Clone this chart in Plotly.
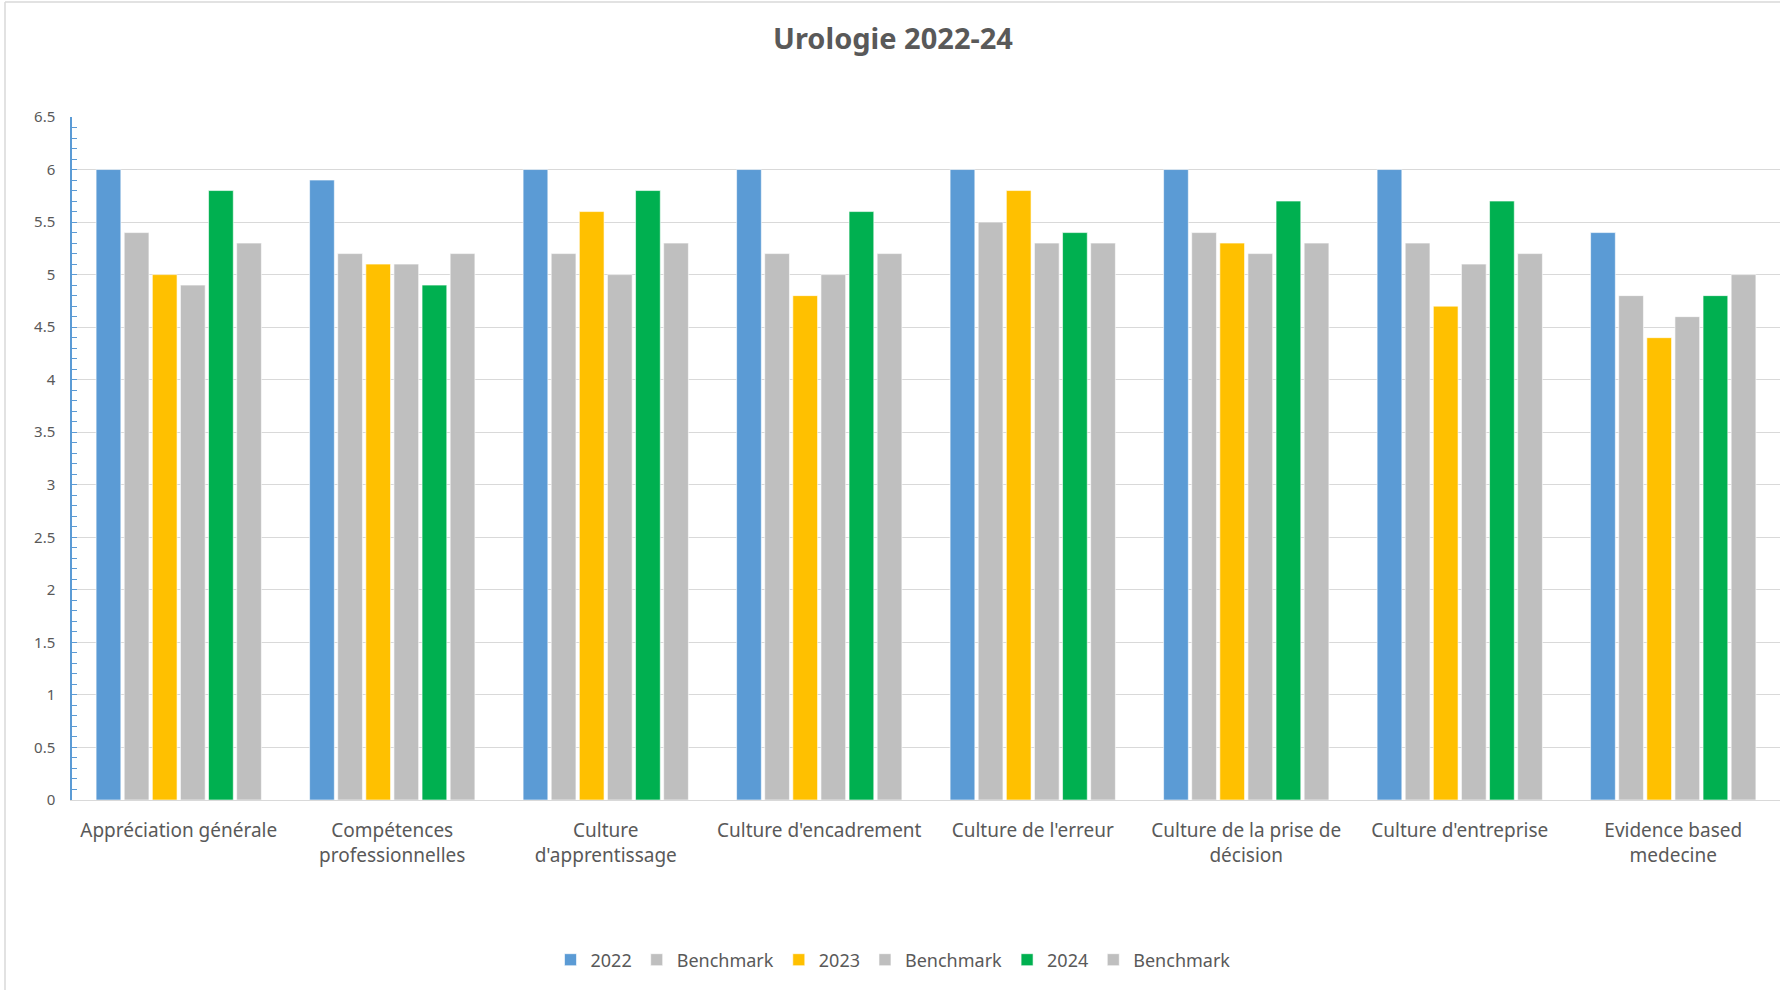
import plotly.graph_objects as go

categories = [
    "Appréciation générale",
    "Compétences<br>professionnelles",
    "Culture<br>d'apprentissage",
    "Culture d'encadrement",
    "Culture de l'erreur",
    "Culture de la prise de<br>décision",
    "Culture d'entreprise",
    "Evidence based<br>medecine",
]
v2022 = [6.0, 5.9, 6.0, 6.0, 6.0, 6.0, 6.0, 5.4]
bench1 = [5.4, 5.2, 5.2, 5.2, 5.5, 5.4, 5.3, 4.8]
v2023 = [5.0, 5.1, 5.6, 4.8, 5.8, 5.3, 4.7, 4.4]
bench2 = [4.9, 5.1, 5.0, 5.0, 5.3, 5.2, 5.1, 4.6]
v2024 = [5.8, 4.9, 5.8, 5.6, 5.4, 5.7, 5.7, 4.8]
bench3 = [5.3, 5.2, 5.3, 5.2, 5.3, 5.3, 5.2, 5.0]

series = [
    ("2022", v2022, "#5B9BD5"),
    ("Benchmark", bench1, "#BFBFBF"),
    ("2023", v2023, "#FFC000"),
    ("Benchmark", bench2, "#BFBFBF"),
    ("2024", v2024, "#00B050"),
    ("Benchmark", bench3, "#BFBFBF"),
]

W, H = 1780, 990
ML, MR, MT, MB = 72, 0, 117, 190
plot_h = H - MT - MB
plot_w = W - ML - MR

fig = go.Figure()
for name, vals, col in series:
    fig.add_trace(go.Bar(
        x=categories, y=vals, name=name,
        marker=dict(color=col, line=dict(color="rgba(255,255,255,0.6)", width=1)),
    ))

font_fam = "Noto Sans, Liberation Sans, sans-serif"
fig.update_layout(
    width=W, height=H,
    margin=dict(l=ML, r=MR, t=MT, b=MB, autoexpand=False),
    paper_bgcolor="white", plot_bgcolor="white",
    barmode="group", bargap=0.21, bargroupgap=0.12,
    font=dict(family=font_fam, color="#595959"),
    title=dict(text="<b>Urologie 2022-24</b>", x=893 / W, xref="container",
               xanchor="center", y=1 - 39 / H, yref="container",
               yanchor="middle", font=dict(size=29, color="#595959", family=font_fam)),
    legend=dict(orientation="h", x=(893 - ML) / plot_w, xanchor="center", xref="paper",
                y=-(960 - (H - MB)) / plot_h, yanchor="middle",
                font=dict(size=18, color="#595959"), itemwidth=30,
                traceorder="normal"),
    xaxis=dict(showline=True, linecolor="#D9D9D9", linewidth=1,
               tickfont=dict(size=19, color="#595959"), ticks="",
               ticklabelstandoff=13),
    yaxis=dict(range=[0, 6.5], dtick=0.5, tick0=0, showgrid=True,
               gridcolor="#D9D9D9", gridwidth=1,
               showline=True, linecolor="#5B9BD5", linewidth=1.5,
               ticks="inside", ticklen=5, tickcolor="#5B9BD5",
               tickfont=dict(size=15, color="#595959"),
               ticklabelstandoff=12, zeroline=False,
               minor=dict(dtick=0.1, ticks="inside", ticklen=5,
                          tickcolor="#5B9BD5", showgrid=False)),
    shapes=[
        dict(type="line", xref="paper", yref="paper",
             x0=(5 - ML) / plot_w, x1=(5 - ML) / plot_w,
             y0=-MB / plot_h, y1=1 + (MT - 2) / plot_h,
             line=dict(color="#D9D9D9", width=1.5)),
        dict(type="line", xref="paper", yref="paper",
             x0=(5 - ML) / plot_w, x1=1.0,
             y0=1 + (MT - 2) / plot_h, y1=1 + (MT - 2) / plot_h,
             line=dict(color="#D9D9D9", width=1.5)),
    ],
)

fig.write_html(
    "out.html",
    config={"displayModeBar": False},
    post_script="document.body.style.margin='0';document.body.style.overflow='hidden';",
)
